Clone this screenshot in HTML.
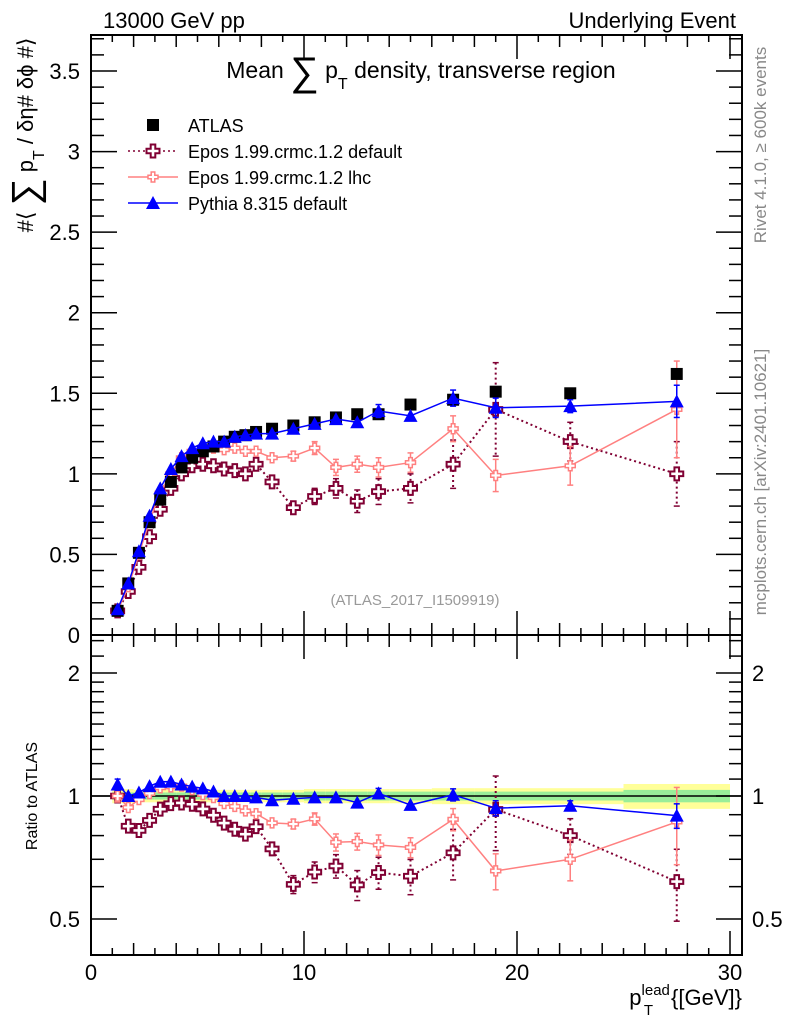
<!DOCTYPE html>
<html><head><meta charset="utf-8"><style>
html,body{margin:0;padding:0;background:#fff;}
svg{display:block;font-family:"Liberation Sans",sans-serif;}
</style></head><body>
<svg id="c" width="786" height="1024" viewBox="0 0 786 1024"></svg>
<script>
const xs      = [1.25,1.75,2.25,2.75,3.25,3.75,4.25,4.75,5.25,5.75,6.25,6.75,7.25,7.75,8.5,9.5,10.5,11.5,12.5,13.5,15,17,19,22.5,27.5];
const binEdges= [1,1.5,2,2.5,3,3.5,4,4.5,5,5.5,6,6.5,7,7.5,8,9,10,11,12,13,14,16,18,20,25,30];
const atlas   = [0.15,0.32,0.51,0.70,0.84,0.95,1.04,1.10,1.14,1.17,1.20,1.23,1.24,1.26,1.28,1.30,1.32,1.35,1.37,1.37,1.43,1.46,1.51,1.50,1.62];
const atlasErrRel = [0.02,0.02,0.02,0.02,0.02,0.02,0.02,0.02,0.02,0.02,0.02,0.02,0.02,0.02,0.02,0.02,0.025,0.025,0.025,0.025,0.025,0.025,0.025,0.025,0.035];
const atlasSysRel = [0.04,0.04,0.035,0.035,0.035,0.035,0.035,0.035,0.035,0.035,0.035,0.035,0.035,0.035,0.035,0.035,0.04,0.04,0.04,0.04,0.04,0.045,0.045,0.045,0.07];
const pythia  = [0.16,0.32,0.52,0.74,0.91,1.03,1.11,1.16,1.19,1.20,1.20,1.23,1.24,1.25,1.25,1.28,1.31,1.34,1.32,1.39,1.36,1.47,1.41,1.42,1.45];
const pythiaErr=[0.005,0.005,0.005,0.005,0.005,0.005,0.005,0.005,0.005,0.005,0.01,0.01,0.01,0.01,0.01,0.015,0.015,0.02,0.02,0.04,0.02,0.05,0.06,0.04,0.10];
const eposLhc = [0.15,0.30,0.50,0.71,0.88,1.00,1.10,1.14,1.15,1.16,1.15,1.16,1.14,1.14,1.10,1.11,1.16,1.04,1.06,1.04,1.07,1.28,0.99,1.05,1.40];
const eposLhcErr=[0.005,0.005,0.005,0.005,0.005,0.01,0.01,0.01,0.01,0.015,0.015,0.015,0.02,0.02,0.02,0.03,0.04,0.05,0.05,0.06,0.06,0.08,0.10,0.12,0.30];
const eposDef = [0.15,0.27,0.42,0.61,0.78,0.91,1.00,1.05,1.06,1.05,1.03,1.02,1.00,1.06,0.95,0.79,0.86,0.91,0.83,0.89,0.91,1.06,1.40,1.20,1.00];
const eposDefErr=[0.005,0.005,0.005,0.005,0.01,0.01,0.01,0.01,0.01,0.015,0.015,0.02,0.02,0.02,0.03,0.04,0.05,0.06,0.07,0.08,0.09,0.15,0.29,0.12,0.20];
const yTicksTop = [0,0.5,1,1.5,2,2.5,3,3.5];
const yTickLabelsTop = ["0","0.5","1","1.5","2","2.5","3","3.5"];
const xTicks = [0,10,20,30];
const rTicks = [0.5,1,2];

const NS="http://www.w3.org/2000/svg";
const svg=document.getElementById('c');
const L=91,R=742,T=35,B1=635,B2=955;
const X=v=>L+(v-0)*(730-91)/30;
const Y=v=>B1-(v-0)*(B1-71)/3.5;
const YR=r=>796-123*Math.log2(r);
function el(tag,attrs,parent){const e=document.createElementNS(NS,tag);for(const k in attrs)e.setAttribute(k,attrs[k]);(parent||svg).appendChild(e);return e;}
function txt(s,x,y,size,anchor,fill,parent,rot){const t=el('text',{x:x,y:y,'font-size':size,'text-anchor':anchor||'start',fill:fill||'#000'},parent);if(rot)t.setAttribute('transform',`rotate(${rot} ${x} ${y})`);t.textContent=s;return t;}

// ratio bands
const bands=el('g',{});


for(let i=0;i<xs.length;i++){
  const x0=X(binEdges[i]),x1=X(binEdges[i+1]);
  const s=atlasSysRel[i],e=atlasErrRel[i];
  const ry=el('rect',{x:x0,y:YR(1+s),width:x1-x0,height:YR(1-s)-YR(1+s),fill:'#ffff99'},bands);
  
  
  const rg=el('rect',{x:x0,y:YR(1+e),width:x1-x0,height:YR(1-e)-YR(1+e),fill:'#99ee99'},bands);
  
  
}
el('line',{x1:L,x2:R,y1:YR(1),y2:YR(1),stroke:'#000','stroke-width':1.5});

// frames
const f1=el('rect',{x:L,y:T,width:R-L,height:B1-T,fill:'none',stroke:'#000','stroke-width':2});


const f2=el('rect',{x:L,y:B1,width:R-L,height:B2-B1,fill:'none',stroke:'#000','stroke-width':2});



// top y ticks
for(let v=0;v<=3.7001;v+=0.1){
  const maj=Math.abs(v*2-Math.round(v*2))<1e-6;const len=maj?26:13;const y=Y(v);
  el('line',{x1:L,x2:L+len,y1:y,y2:y,stroke:'#000','stroke-width':1.5});
  el('line',{x1:R,x2:R-len,y1:y,y2:y,stroke:'#000','stroke-width':1.5});
}
yTicksTop.forEach((v,i)=>{const t=txt(yTickLabelsTop[i],80,Y(v)+8,22,'end');});
// x ticks
for(let v=0;v<=30.5;v+=1){
  const len=v%10===0?24:(v%2===0?12:7);const x=X(v);
  [B1,B2].forEach(b=>el('line',{x1:x,x2:x,y1:b,y2:b-len,stroke:'#000','stroke-width':1.5}));
  [T,B1].forEach(b=>el('line',{x1:x,x2:x,y1:b,y2:b+len,stroke:'#000','stroke-width':1.5}));
}
xTicks.forEach(v=>{const t=txt(String(v),X(v),980,22,'middle');});
// ratio ticks
const rMinor=[0.4,0.5,0.6,0.7,0.8,0.9,1,1.1,1.2,1.3,1.4,1.5,1.6,1.7,1.8,1.9,2,2.2,2.4];
rMinor.forEach(r=>{const maj=rTicks.includes(r);const len=maj?26:13;const y=YR(r);if(y<B1||y>B2)return;
  el('line',{x1:L,x2:L+len,y1:y,y2:y,stroke:'#000','stroke-width':1.5});
  el('line',{x1:R,x2:R-len,y1:y,y2:y,stroke:'#000','stroke-width':1.5});});
rTicks.forEach(r=>{const a=txt(String(r),80,YR(r)+8,22,'end');
  const b=txt(String(r),752,YR(r)+8,22,'start');});

// markers
function marker(kind,x,y,g){
  if(kind==='sq') el('rect',{x:x-6,y:y-6,width:12,height:12,fill:'#000'},g);
  else if(kind==='tri') el('polygon',{points:`${x},${y-7} ${x-7},${y+6} ${x+7},${y+6}`,fill:'#0000ff'},g);
  else if(kind==='crossBig'){const a=2.3,b=6.5;el('polygon',{points:`${x-a},${y-b} ${x+a},${y-b} ${x+a},${y-a} ${x+b},${y-a} ${x+b},${y+a} ${x+a},${y+a} ${x+a},${y+b} ${x-a},${y+b} ${x-a},${y+a} ${x-b},${y+a} ${x-b},${y-a} ${x-a},${y-a}`,fill:'#fff',stroke:'#800033','stroke-width':2},g);}
  else {const a=1.8,b=5;el('polygon',{points:`${x-a},${y-b} ${x+a},${y-b} ${x+a},${y-a} ${x+b},${y-a} ${x+b},${y+a} ${x+a},${y+a} ${x+a},${y+b} ${x-a},${y+b} ${x-a},${y+a} ${x-b},${y+a} ${x-b},${y-a} ${x-a},${y-a}`,fill:'#fff',stroke:'#ff8080','stroke-width':1.5},g);}
}
function series(name,vals,errs,color,dash,kind,ratio){
  const g=el('g',{});
  
  
  const fy=ratio?(i,v)=>YR(v/atlas[i]):(i,v)=>Y(v);
  const pts=vals.map((v,i)=>`${X(xs[i])},${fy(i,v)}`).join(' ');
  if(color) el('polyline',{points:pts,fill:'none',stroke:color,'stroke-width':dash?2:1.5,'stroke-dasharray':dash||'none'},g);
  if(errs) vals.forEach((v,i)=>{const x=X(xs[i]),y1=fy(i,v+errs[i]),y2=fy(i,v-errs[i]);if(y2-y1<8)return;
    el('line',{x1:x,x2:x,y1:y1,y2:y2,stroke:color,'stroke-width':dash?2:1.5,'stroke-dasharray':dash||'none'},g);
    el('line',{x1:x-3,x2:x+3,y1:y1,y2:y1,stroke:color,'stroke-width':1.5},g);
    el('line',{x1:x-3,x2:x+3,y1:y2,y2:y2,stroke:color,'stroke-width':1.5},g);});
  vals.forEach((v,i)=>marker(kind,X(xs[i]),fy(i,v),g));
}
series('epos-default-series',eposDef,eposDefErr,'#800033','2,3','crossBig',false);
series('epos-lhc-series',eposLhc,eposLhcErr,'#ff8080',null,'crossSm',false);
series('atlas-series',atlas,null,null,null,'sq',false);
series('pythia-series',pythia,pythiaErr,'#0000ff',null,'tri',false);
series('epos-default-ratio',eposDef,eposDefErr,'#800033','2,3','crossBig',true);
series('epos-lhc-ratio',eposLhc,eposLhcErr,'#ff8080',null,'crossSm',true);
series('pythia-ratio',pythia,pythiaErr,'#0000ff',null,'tri',true);

// legend
const lg=el('g',{});


const leg=[['ATLAS','sq',null,null],['Epos 1.99.crmc.1.2 default','crossBig','#800033','2,3'],['Epos 1.99.crmc.1.2 lhc','crossSm','#ff8080',null],['Pythia 8.315 default','tri','#0000ff',null]];
leg.forEach((l,i)=>{const y=125+i*26;
  if(l[2]) el('line',{x1:128,x2:178,y1:y,y2:y,stroke:l[2],'stroke-width':1.5,'stroke-dasharray':l[3]||'none'},lg);
  marker(l[1],153,y,lg);
  const t=txt(l[0],188,y+7,18,'start','#000',lg);
  
  
});

// texts
let t;
t=txt('13000 GeV pp',103,28,22,'start');
t=txt('Underlying Event',736,28,22,'end');
t=el('text',{x:421,y:78,'font-size':23,'text-anchor':'middle'});t.innerHTML='Mean <tspan font-size="40" dy="7">∑</tspan><tspan dy="-7"> p</tspan><tspan font-size="16" dy="11">T</tspan><tspan dy="-11"> density, transverse region</tspan>';

t=el('text',{x:33,y:135,'font-size':22,'text-anchor':'middle',transform:'rotate(-90 33 135)'});t.innerHTML='#⟨ <tspan font-size="38" dy="5">∑</tspan><tspan dy="-5"> p</tspan><tspan font-size="16" dy="11">T</tspan><tspan dy="-11">  / δη# δϕ #⟩</tspan>';

t=txt('Ratio to ATLAS',37,796,16,'middle','#000',null,-90);
t=txt('(ATLAS_2017_I1509919)',415,605,15,'middle','#999');
t=txt('Rivet 4.1.0, ≥ 600k events',766,145,17,'middle','#888',null,-90);
t=txt('mcplots.cern.ch [arXiv:2401.10621]',766,482,17,'middle','#888',null,-90);
t=el('text',{x:742,y:1005,'font-size':22,'text-anchor':'end'});t.innerHTML='p<tspan font-size="15" dy="-10">lead</tspan><tspan font-size="15" dx="-26" dy="20">T</tspan><tspan dx="18" dy="-10">{[GeV]}</tspan>';

</script>
</body></html>
